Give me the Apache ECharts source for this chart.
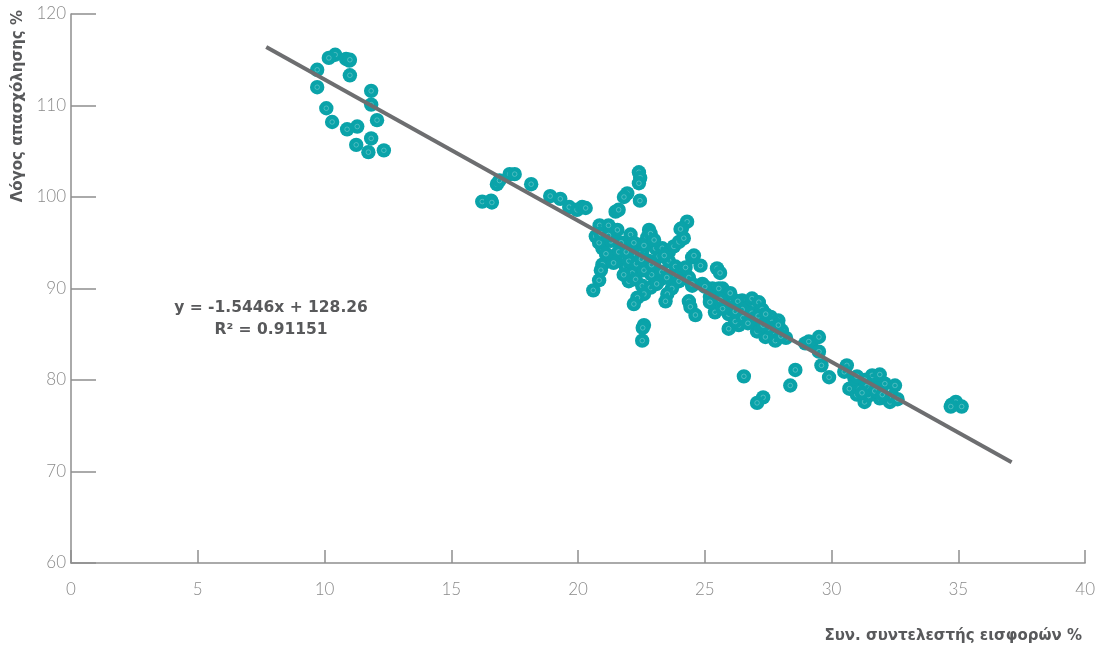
<!DOCTYPE html>
<html>
<head>
<meta charset="utf-8">
<script src="https://cdn.jsdelivr.net/npm/echarts@6/dist/echarts.min.js"></script>
<style>
html,body{margin:0;padding:0;background:#fff;}
#chart{width:1098px;height:647px;}
</style>
</head>
<body>
<div id="chart"></div>
<script>
// Tick labels
const xTicks = [0, 5, 10, 15, 20, 25, 30, 35, 40];
const yTicks = [60, 70, 80, 90, 100, 110, 120];

// Scatter data
const xValues = [
  10.42,10.17,10.85,10.98,11.0,9.71,11.0,9.71,11.84,11.84,10.07,12.07,10.30,11.29,10.89,11.84,11.25,12.34,11.73,
  16.22,16.57,16.6,16.8,16.9,17.3,17.5,18.15,18.9,19.3,19.65,19.96,20.16,20.3,
  22.4,22.45,22.4,21.94,21.81,22.44,21.48,21.6,20.85,21.2,21.55,20.8,20.7,20.96,20.83,22.07,22.8,22.73,22.86,
  21.75,22.14,22.4,22.53,23.06,23.32,23.58,23.78,23.98,24.17,24.3,24.1,24.04,
  20.96,20.9,20.83,20.6,21.88,22.14,22.0,22.27,22.53,22.86,22.6,22.34,22.2,23.25,23.06,23.58,23.84,24.1,24.37,24.5,23.98,23.7,24.37,23.52,23.45,
  22.6,22.55,22.53,24.5,24.24,24.83,24.57,25.48,25.6,24.9,24.5,25.3,25.7,25.0,24.43,24.63,25.55,25.8,
  21.3,21.5,22.8,23.0,22.0,21.7,23.2,22.9,21.6,21.3,
  21.4,21.8,22.3,22.6,22.9,23.3,23.5,23.1,22.5,21.9,22.2,22.6,23.0,23.4,21.1,20.9,21.2,
  26.07,26.47,26.86,27.13,26.3,26.6,25.4,25.94,26.47,26.86,27.26,27.6,27.9,25.94,26.34,26.2,26.99,27.06,27.39,27.78,28.04,27.65,27.9,28.2,27.78,
  26.0,26.5,26.8,27.1,27.4,27.5,27.2,28.0,26.2,25.7,25.2,26.0,
  28.96,29.2,29.1,29.5,29.5,29.6,29.9,28.57,28.37,26.54,27.3,27.06,25.2,25.6,26.7,27.3,
  30.6,30.5,30.7,31.0,31.3,31.65,31.8,32.1,32.5,31.9,32.3,31.46,31.1,31.6,31.9,30.9,31.3,32.4,32.6,
  31.0,31.4,31.7,32.0,31.2,
  34.74,34.9,35.13,34.7
];
const yValues = [
  115.55,115.2,115.1,114.9,115.0,113.9,113.3,112.0,111.6,110.1,109.7,108.4,108.2,107.7,107.4,106.4,105.7,105.1,104.9,
  99.5,99.6,99.4,101.4,101.8,102.5,102.5,101.4,100.1,99.8,98.9,98.6,98.9,98.8,
  102.7,102.1,101.5,100.4,100.0,99.6,98.4,98.6,96.9,96.9,96.4,95.5,95.7,94.4,95.0,95.9,96.4,95.6,96.0,
  94.4,93.7,94.8,94.0,94.4,94.4,94.0,94.6,95.1,95.5,97.3,96.6,96.5,
  92.6,92.0,90.9,89.8,92.4,91.7,90.8,91.0,90.3,90.1,89.4,89.0,88.3,91.0,92.1,93.0,92.4,92.1,91.2,90.3,90.8,90.0,88.6,89.4,88.6,
  86.0,85.7,84.3,93.4,92.3,92.5,93.6,92.2,91.7,90.5,90.5,90.0,90.0,90.2,88.0,87.1,90.0,88.5,
  93.5,93.0,93.0,92.8,93.0,95.0,93.5,91.5,94.0,95.2,
  92.8,91.5,92.7,92.0,92.6,91.8,91.2,90.5,93.2,94.0,95.0,94.7,95.3,93.6,93.8,96.0,95.8,
  88.9,88.7,88.9,88.5,88.6,87.8,87.4,87.2,87.7,87.3,87.7,86.9,86.5,85.6,86.0,86.4,86.7,85.3,84.7,84.9,85.4,86.3,86.0,84.6,84.3,
  87.8,86.8,86.6,87.0,87.2,85.7,85.8,84.8,87.5,87.8,89.1,89.5,
  84.0,84.0,84.2,84.7,83.1,81.6,80.3,81.1,79.4,80.4,78.1,77.5,88.5,88.8,86.2,86.0,
  81.6,80.9,79.05,78.4,77.6,80.3,79.05,79.6,79.4,78.0,77.6,78.3,79.05,80.5,80.6,80.2,80.0,78.2,77.9,
  80.4,79.3,78.8,78.4,78.6,
  77.3,77.6,77.1,77.1
];

// Linear trend line end points
const trendX = [7.7, 37.1];
const trendY = [116.4, 71.0];

const equationText = 'y = -1.5446x + 128.26';
const r2Text = 'R² = 0.91151';
const xTitle = 'Συν. συντελεστής εισφορών %';
const yTitle = 'Λόγος απασχόλησης %';

const scatterData = xValues.map((x, i) => [x, yValues[i]]);
const trendData = trendX.map((x, i) => [x, trendY[i]]);

const teal = '#0aa3a9';
const axisColor = '#8e8e8e';
const labelColor = '#8a8a8a';
const titleColor = '#58595b';

const chart = echarts.init(document.getElementById('chart'), null, {renderer: 'canvas'});
chart.setOption({
  animation: false,
  backgroundColor: '#ffffff',
  grid: {left: 71, right: 12, top: 14, bottom: 84, containLabel: false},
  xAxis: {
    type: 'value',
    min: xTicks[0], max: xTicks[xTicks.length - 1], interval: 5,
    axisLine: {show: true, onZero: false, lineStyle: {color: axisColor, width: 1.5}},
    axisTick: {show: true, inside: true, length: 13, lineStyle: {color: axisColor, width: 1.5}},
    splitLine: {show: false},
    axisLabel: {color: labelColor, fontSize: 17, margin: 18, fontFamily: 'Lato', fontWeight: 300}
  },
  yAxis: {
    type: 'value',
    min: yTicks[0], max: yTicks[yTicks.length - 1], interval: 10,
    axisLine: {show: true, onZero: false, lineStyle: {color: axisColor, width: 1.5}},
    axisTick: {show: true, inside: true, length: 25, lineStyle: {color: axisColor, width: 1.5}},
    splitLine: {show: false},
    axisLabel: {color: labelColor, fontSize: 17, margin: 5, fontFamily: 'Lato', fontWeight: 300}
  },
  series: [
    {
      type: 'custom',
      name: 'points',
      data: scatterData,
      encode: {x: 0, y: 1},
      z: 2,
      renderItem: function (params, api) {
        const p = api.coord([api.value(0), api.value(1)]);
        return {
          type: 'group',
          children: [
            {type: 'circle', shape: {cx: p[0], cy: p[1], r: 7.2}, style: {fill: teal}},
            {type: 'circle', shape: {cx: p[0], cy: p[1], r: 2.3}, style: {fill: 'none', stroke: 'rgba(150,215,218,0.75)', lineWidth: 0.6}}
          ]
        };
      }
    },
    {
      type: 'line',
      name: 'trend',
      data: trendData,
      symbol: 'none',
      z: 3,
      lineStyle: {color: '#6d6e70', width: 4},
      silent: true
    }
  ],
  graphic: [
    {
      type: 'text', x: 18, y: 10, rotation: Math.PI / 2,
      style: {text: yTitle, fill: titleColor, font: 'bold 15px "DejaVu Sans", sans-serif', textAlign: 'right', textVerticalAlign: 'middle'}
    },
    {
      type: 'text', x: 1082, y: 636,
      style: {text: xTitle, fill: titleColor, font: 'bold 15px "DejaVu Sans", sans-serif', textAlign: 'right', textVerticalAlign: 'middle'}
    },
    {
      type: 'text', x: 271, y: 308,
      style: {text: equationText, fill: titleColor, font: 'bold 15.5px "DejaVu Sans", sans-serif', textAlign: 'center', textVerticalAlign: 'middle'}
    },
    {
      type: 'text', x: 271, y: 330,
      style: {text: r2Text, fill: titleColor, font: 'bold 15.5px "DejaVu Sans", sans-serif', textAlign: 'center', textVerticalAlign: 'middle'}
    }
  ]
});
</script>
</body>
</html>
